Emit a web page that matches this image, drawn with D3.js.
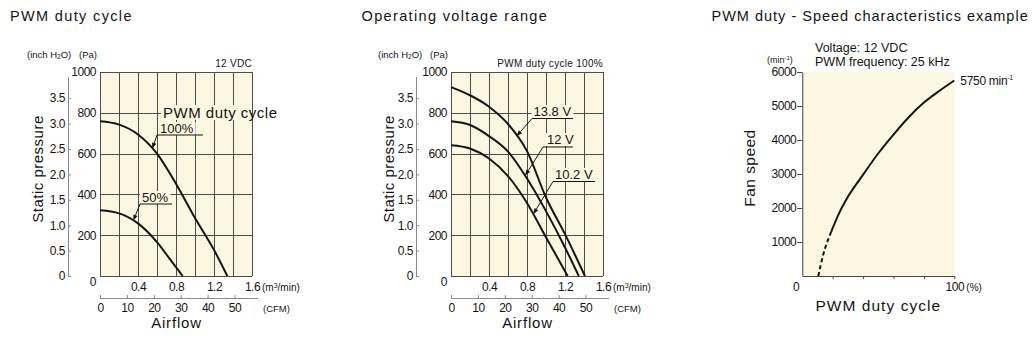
<!DOCTYPE html>
<html>
<head>
<meta charset="utf-8">
<script src="https://cdn.jsdelivr.net/npm/d3@7"></script>
<style>
  body { margin: 0; background: #fff; }
  svg { display: block; font-family: "Liberation Sans", Arial, Helvetica, sans-serif; }
</style>
</head>
<body>
<svg id="chart" width="1036" height="338"></svg>
<script>
// Fan P-Q curves: [airflow m³/min, static pressure Pa]
const duty100 = [[0, 758], [0.2, 742], [0.4, 694], [0.6, 600], [0.8, 452], [1.0, 284], [1.2, 128], [1.34, 0]];
const duty50  = [[0, 322], [0.2, 307], [0.4, 258], [0.6, 166], [0.74, 80], [0.87, 0]];
const volt138 = [[0, 926], [0.2, 886], [0.4, 830], [0.6, 745], [0.8, 612], [1.0, 385], [1.2, 205], [1.41, 0]];
const volt120 = [[0, 758], [0.2, 740], [0.4, 686], [0.6, 610], [0.8, 478], [1.0, 318], [1.2, 140], [1.345, 0]];
const volt102 = [[0, 641], [0.2, 625], [0.4, 576], [0.6, 490], [0.8, 358], [1.0, 190], [1.228, 0]];

// Fan speed vs PWM duty: [duty %, speed min⁻¹]
const speedDashed = [[10.5, 0], [13.8, 630], [19, 1300]];
const speedSolid  = [[19, 1300], [23.7, 1800], [30, 2330], [40, 2980], [50, 3610], [60, 4160], [70, 4670], [80, 5100], [90, 5440], [100, 5750]];

// Tick values
const paTicks    = [0, 200, 400, 600, 800, 1000];
const inchTicks  = [0, 0.5, 1, 1.5, 2, 2.5, 3, 3.5];
const flowLabels = [0.4, 0.8, 1.2, 1.6];
const cfmTicks   = [0, 10, 20, 30, 40, 50];
const speedTicks = [1000, 2000, 3000, 4000, 5000, 6000];
const dutyTicks  = [20, 40, 60, 80, 100];

const CREAM = "#fcf7e0", GRID = "#4d4d4d", INK = "#141414", AXIS_GRAY = "#8a8a8a";
const PA_PER_INCH = 249.089, CFM_PER_M3 = 35.3147;
const TOP = 72, BOTTOM = 276, PLOT_W = 152;
const FONT = '"Liberation Sans", Arial, Helvetica, sans-serif';
const TICK_SIZE = 12, TICK_LS = -0.5;

const svg = d3.select("#chart");

function txt(g, x, y, s, size, opts = {}) {
  const t = g.append("text").attr("x", x).attr("y", y)
    .attr("font-size", size).attr("fill", opts.fill || INK)
    .attr("text-anchor", opts.anchor || "start")
    .text(s);
  if (opts.ls) t.attr("letter-spacing", opts.ls);
  return t;
}

function styleAxis(a) {
  a.attr("font-family", FONT).attr("font-size", TICK_SIZE).attr("color", INK);
  a.selectAll("text").attr("letter-spacing", TICK_LS);
}

// Interpolated value along a curve's data
function valueAt(data, xv) {
  for (let i = 1; i < data.length; i++) {
    if (xv <= data[i][0]) {
      const [x0, y0] = data[i - 1], [x1, y1] = data[i];
      return y0 + (y1 - y0) * (xv - x0) / (x1 - x0);
    }
  }
  return data[data.length - 1][1];
}

// Section titles
txt(svg, 10, 21, "PWM duty cycle", 14.5, { ls: 1.35 });
txt(svg, 361.5, 21, "Operating voltage range", 14.5, { ls: 1.35 });
txt(svg, 711.5, 21, "PWM duty - Speed characteristics example", 14.5, { ls: 1.0 });

// Static pressure vs airflow panel
function pqPanel(ox, inchOff, note, curves, callouts) {
  const g = svg.append("g");
  const x = d3.scaleLinear([0, 1.6], [ox, ox + PLOT_W]);
  const y = d3.scaleLinear([0, 1000], [BOTTOM, TOP]);
  const yIn = d3.scaleLinear([0, 1000 / PA_PER_INCH], [BOTTOM, TOP]);
  const xc = d3.scaleLinear([0, 1.6 * CFM_PER_M3], [ox, ox + PLOT_W]);

  g.append("rect").attr("x", ox).attr("y", TOP).attr("width", PLOT_W).attr("height", BOTTOM - TOP).attr("fill", CREAM);

  const grid = g.append("g").attr("stroke", GRID).attr("stroke-width", 1);
  grid.selectAll("line.v").data(d3.ticks(0, 1.6, 8)).join("line")
    .attr("x1", d => Math.round(x(d)) + 0.5).attr("x2", d => Math.round(x(d)) + 0.5)
    .attr("y1", TOP).attr("y2", BOTTOM);
  grid.selectAll("line.h").data(d3.ticks(0, 1000, 5)).join("line")
    .attr("x1", ox).attr("x2", ox + PLOT_W)
    .attr("y1", d => Math.round(y(d)) + 0.5).attr("y2", d => Math.round(y(d)) + 0.5);

  // Pa axis labels
  const pa = g.append("g").attr("transform", `translate(${ox},0)`)
    .call(d3.axisLeft(y).tickValues(paTicks).tickSize(0).tickPadding(4).tickFormat(d3.format("d")));
  pa.select(".domain").remove();
  styleAxis(pa);
  pa.selectAll(".tick").filter(d => d === 0).select("text").attr("transform", "translate(0,6)");

  // inch H2O axis
  const ix = ox - inchOff;
  const ia = g.append("g").attr("transform", `translate(${ix},0)`)
    .call(d3.axisLeft(yIn).tickValues(inchTicks).tickSize(-3).tickPadding(3).tickSizeOuter(0)
      .tickFormat(d => d === 0 ? "0" : d3.format(".1f")(d)));
  ia.select(".domain").remove();
  styleAxis(ia);
  ia.selectAll("line").attr("stroke", AXIS_GRAY);
  g.append("line").attr("x1", ix + 0.5).attr("x2", ix + 0.5).attr("y1", yIn(0)).attr("y2", y(975))
    .attr("stroke", AXIS_GRAY);

  // unit captions
  const ih = txt(g, ox - 73, 58, "(inch H", 9.5);
  ih.append("tspan").attr("font-size", 6.5).attr("dy", 1).text("2");
  ih.append("tspan").attr("dy", -1).text("O)");
  txt(g, ox - 3, 58, "(Pa)", 9.5, { anchor: "end" });
  txt(g, ox + PLOT_W, 67, note, 10, { anchor: "end", ls: 0.3 });

  // m³/min axis labels
  const fa = g.append("g").attr("transform", `translate(0,${BOTTOM})`)
    .call(d3.axisBottom(x).tickValues(flowLabels).tickSize(0).tickPadding(6.5).tickFormat(d3.format(".1f")));
  fa.select(".domain").remove();
  styleAxis(fa);
  const mu = txt(g, ox + 162, 291, "(m", 10);
  mu.append("tspan").attr("font-size", 7).attr("dy", -3.5).text("3");
  mu.append("tspan").attr("dy", 3.5).text("/min)");

  // CFM axis
  const cy = 298;
  const ca = g.append("g").attr("transform", `translate(0,${cy})`)
    .call(d3.axisBottom(xc).tickValues(cfmTicks).tickSize(-3).tickPadding(5));
  ca.select(".domain").remove();
  styleAxis(ca);
  ca.selectAll("line").attr("stroke", AXIS_GRAY);
  g.append("line").attr("x1", ox).attr("x2", ox + 158).attr("y1", cy + 0.5).attr("y2", cy + 0.5)
    .attr("stroke", AXIS_GRAY);
  txt(g, ox + 163, 312, "(CFM)", 9.5);

  // axis titles
  txt(g, ox + 76.5, 328, "Airflow", 15, { anchor: "middle", ls: 0.8 });
  txt(g, 0, 0, "Static pressure", 15, { anchor: "middle", ls: 0.5 })
    .attr("transform", `translate(${ox - 57},169) rotate(-90)`);

  // curves
  const line = d3.line().x(d => x(d[0])).y(d => y(d[1])).curve(d3.curveMonotoneX);
  g.append("g").selectAll("path").data(curves).join("path")
    .attr("d", d => line(d)).attr("fill", "none").attr("stroke", INK)
    .attr("stroke-width", 2).attr("stroke-linejoin", "round");

  // callout labels with leaders
  callouts.forEach(c => {
    const cg = g.append("g");
    const knock = cg.append("rect").attr("fill", CREAM);
    const t = txt(cg, ox + c.tx, c.ty, c.text, c.size || 13, { ls: c.ls || 0 });
    const bb = t.node().getBBox();
    const kx0 = Math.max(bb.x - 2, ox + 1), kx1 = Math.min(bb.x + bb.width + 2, ox + PLOT_W - 1);
    knock.attr("x", kx0).attr("y", bb.y + 1).attr("width", Math.max(0, kx1 - kx0)).attr("height", bb.height - 2);
    if (c.curve) {
      const ux1 = ox + c.ux1, uy = c.uy;
      cg.append("line").attr("x1", ux1).attr("x2", ox + c.ux2).attr("y1", uy).attr("y2", uy)
        .attr("stroke", INK).attr("stroke-width", 1);
      const tipX = x(c.tipFlow), tipY = y(valueAt(c.curve, c.tipFlow));
      const ang = Math.atan2(tipY - uy, tipX - ux1);
      const L = 6, Wd = 2.2;
      const bx = tipX - L * Math.cos(ang), by = tipY - L * Math.sin(ang);
      cg.append("line").attr("x1", ux1).attr("y1", uy).attr("x2", bx).attr("y2", by)
        .attr("stroke", INK).attr("stroke-width", 1);
      const px = -Math.sin(ang) * Wd, py = Math.cos(ang) * Wd;
      cg.append("path")
        .attr("d", `M${tipX},${tipY}L${bx + px},${by + py}L${bx - px},${by - py}Z`)
        .attr("fill", INK);
    }
  });
}

pqPanel(100, 32, "12 VDC", [duty100, duty50], [
  { text: "PWM duty cycle", tx: 63, ty: 118, size: 15, ls: 0.5 },
  { text: "100%", tx: 60, ty: 133, ux1: 57, ux2: 103, uy: 135, curve: duty100, tipFlow: 0.55 },
  { text: "50%", tx: 42, ty: 202, ux1: 40, ux2: 72, uy: 204, curve: duty50, tipFlow: 0.35 }
]);

pqPanel(451, 35, "PWM duty cycle 100%", [volt138, volt120, volt102], [
  { text: "13.8 V", tx: 82.5, ty: 116, ux1: 81, ux2: 122, uy: 118.5, curve: volt138, tipFlow: 0.69 },
  { text: "12 V", tx: 96, ty: 144, ux1: 92, ux2: 122, uy: 147, curve: volt120, tipFlow: 0.78 },
  { text: "10.2 V", tx: 104, ty: 179, ux1: 102, ux2: 144, uy: 181.5, curve: volt102, tipFlow: 0.866 }
]);

// Fan speed panel
(function speedPanel() {
  const g = svg.append("g");
  const x0 = 802.3;
  const x = d3.scaleLinear([0, 100], [x0, x0 + PLOT_W]);
  const y = d3.scaleLinear([0, 6000], [BOTTOM, TOP]);

  g.append("rect").attr("x", x(0)).attr("y", y(6000)).attr("width", x(100) - x(0))
    .attr("height", y(0) - y(6000)).attr("fill", CREAM);

  const ya = g.append("g").attr("transform", `translate(${x0},0)`)
    .call(d3.axisLeft(y).tickValues(speedTicks).tickSize(5).tickPadding(1).tickSizeOuter(0)
      .tickFormat(d3.format("d")));
  styleAxis(ya);
  ya.selectAll("line, path").attr("stroke", "#444");

  const xa = g.append("g").attr("transform", `translate(0,${BOTTOM})`)
    .call(d3.axisBottom(x).tickValues(dutyTicks).tickSize(3).tickPadding(3.5).tickSizeOuter(0)
      .tickFormat(d => d === 100 ? "100" : ""));
  styleAxis(xa);
  xa.selectAll("line, path").attr("stroke", "#444");
  txt(g, x0 - 6, 291, "0", TICK_SIZE, { anchor: "middle" });
  txt(g, x(100) + 12, 291, "(%)", 10);

  const line = d3.line().x(d => x(d[0])).y(d => y(d[1])).curve(d3.curveMonotoneX);
  g.append("path").attr("d", line(speedDashed)).attr("fill", "none").attr("stroke", INK)
    .attr("stroke-width", 2).attr("stroke-dasharray", "4,3");
  g.append("path").attr("d", line(speedSolid)).attr("fill", "none").attr("stroke", INK)
    .attr("stroke-width", 2).attr("stroke-linejoin", "round");

  const last = speedSolid[speedSolid.length - 1];
  const lt = txt(g, x(last[0]) + 6, y(last[1]) + 4, `${last[1]} min`, 12, { ls: -0.3 });
  lt.append("tspan").attr("font-size", 7).attr("dy", -4.5).text("-1");

  const mt = txt(g, 767, 63, "(min", 9);
  mt.append("tspan").attr("font-size", 6).attr("dy", -3).text("-1");
  mt.append("tspan").attr("dy", 3).text(")");
  txt(g, 815, 52, "Voltage: 12 VDC", 12.5);
  txt(g, 815, 65.5, "PWM frequency: 25 kHz", 12.5);

  txt(g, (x(0) + x(100)) / 2, 311, "PWM duty cycle", 15.5, { anchor: "middle", ls: 1.05 });
  txt(g, 0, 0, "Fan speed", 15.5, { anchor: "middle", ls: 0.45 })
    .attr("transform", `translate(755,168) rotate(-90)`);
})();
</script>
</body>
</html>
